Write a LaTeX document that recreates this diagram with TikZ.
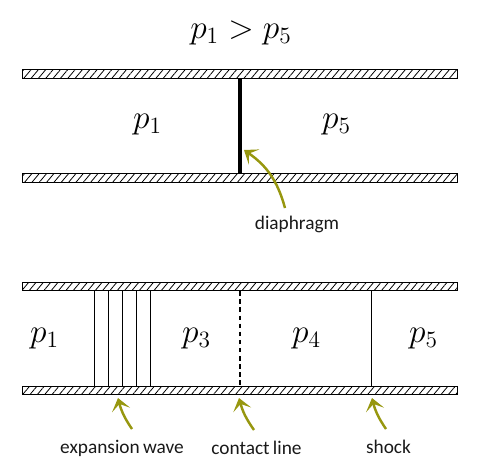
\documentclass[tikz,border=0pt]{standalone}
\usepackage{fix-cm}
\usepackage{fontspec}
\setmainfont[WordSpace=0.75]{Carlito}
\usepackage{amsmath}
\usetikzlibrary{arrows.meta, patterns.meta}
\definecolor{Flag}{HTML}{97970F}
\tikzset{
  wall/.style={draw, line width=0.65pt, minimum width=8.7cm, minimum height=0.17cm, inner sep=0pt,
    pattern={Lines[angle=50, distance=3.2pt, line width=0.45pt]}},
  pressure/.style={font=\fontsize{19}{23}\selectfont},
  tag/.style={font=\fontsize{11}{13}\selectfont, text=black!90},
  pointer/.style={-{Stealth[length=7pt, width=10.5pt, inset=3.5pt]}, line width=1.4pt, Flag},
  wave/.style={line width=0.4pt}
}
\begin{document}
\begin{tikzpicture}[x=0.02cm, y=-0.02cm]
  \useasboundingbox (0,0) rectangle (480,474);
  \node[pressure] (title) at (241,33) {$p_1 > p_5$};
  % closed tube
  \node[wall] (topA) at (240,74) {};
  \node[wall] (botA) at (240,178) {};
  \draw[line width=1.8pt] (topA.south) -- (botA.north);
  \node[pressure] (leftA) at (147.5,125) {$p_1$};
  \node[pressure] (rightA) at (336.5,125) {$p_5$};
  \node[tag] (diaphragm) at (297,224.5) {diaphragm};
  \coordinate (tipD) at (244,150);
  \coordinate (tailD) at (285,208);
  \draw[pointer] (tailD) to[bend right=20] (tipD);
  % after the burst
  \node[wall] (topB) at (240,286.5) {};
  \node[wall] (botB) at (240,390.5) {};
  \foreach \xw in {94,108,122,136,150}
    \draw[wave] (\xw,0 |- topB.south) -- (\xw,0 |- botB.north);
  \draw[line width=0.9pt, dash pattern=on 2.6pt off 2pt] (topB.south) -- (botB.north);
  \draw[wave] (371,0 |- topB.south) -- (371,0 |- botB.north);
  \node[pressure] (regOne) at (44.5,339) {$p_1$};
  \node[pressure] (regThree) at (196.5,339) {$p_3$};
  \node[pressure] (regFour) at (306.5,339) {$p_4$};
  \node[pressure] (regFive) at (423.5,339) {$p_5$};
  \node[tag] (expansion) at (122,448.5) {expansion wave};
  \node[tag] (contact) at (256.5,447.5) {contact line};
  \node[tag] (shock) at (388.5,446.5) {shock};
  \coordinate (tipE) at (118,398);
  \coordinate (tailE) at (132,429);
  \coordinate (tipC) at (239,398);
  \coordinate (tailC) at (254,430);
  \coordinate (tipS) at (372,398);
  \coordinate (tailS) at (386,429);
  \draw[pointer] (tailE) to[bend left=10] (tipE);
  \draw[pointer] (tailC) to[bend left=10] (tipC);
  \draw[pointer] (tailS) to[bend left=10] (tipS);
\end{tikzpicture}
\end{document}
